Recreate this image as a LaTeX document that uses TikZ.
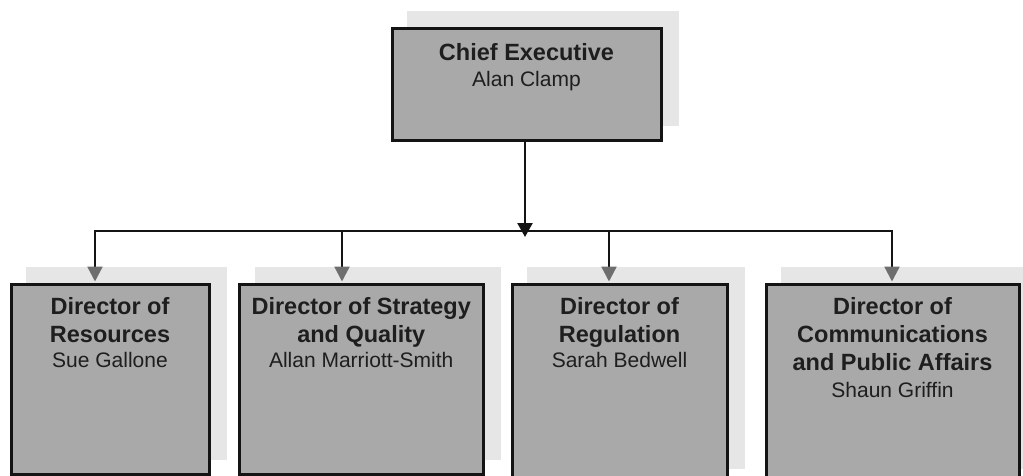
\documentclass[tikz,border=0pt]{standalone}
\usepackage{fontspec}
\setmainfont{Liberation Sans}
\usetikzlibrary{arrows.meta,shadows}

\definecolor{boxfill}{HTML}{A9A9A9}
\definecolor{boxline}{HTML}{141414}
\definecolor{shade}{HTML}{E6E6E6}
\definecolor{tipgray}{HTML}{6E6E6E}
\definecolor{ink}{HTML}{1E1E1E}

% post holder's name, set lighter and smaller than the post title
\newcommand\holder[1]{{\fontsize{21}{25}\selectfont\mdseries #1}}

\begin{document}
\begin{tikzpicture}[x=1pt,y=-1pt,
  post/.style={draw=boxline, fill=boxfill, line width=3pt, inner sep=0pt,
    copy shadow={shadow xshift=16.5pt, shadow yshift=16pt, fill=shade, draw=shade}},
  posttext/.style={anchor=north, inner sep=0pt, align=center, text=ink,
    font=\fontsize{23.5}{28}\selectfont\bfseries},
  wire/.style={draw=boxline, line width=2.4pt},
  bus/.style={wire, line cap=rect},
  mainlink/.style={wire, -{Triangle[length=14pt,width=15pt]}},
  sublink/.style={wire, shorten >=1.5pt, -{Triangle[length=15pt,width=15pt,color=tipgray]}}
]
\useasboundingbox (0,0) rectangle (1023,476);
\clip (0,0) rectangle (1023,476);

% boxes
\node[post, minimum width=269pt, minimum height=112pt] (chief) at (526.5,85) {};
\node[post, minimum width=198pt, minimum height=190pt] (res) at (110,379.5) {};
\node[post, minimum width=243.5pt, minimum height=190pt] (strat) at (361.25,379.5) {};
\node[post, minimum width=215pt, minimum height=199pt] (reg) at (619.5,384) {};
\node[post, minimum width=253pt, minimum height=199pt] (comms) at (892.5,384) {};

% texts
\node[posttext] (chief-t) at ([yshift=-16pt]chief.north) {Chief Executive\\[-2pt]\holder{Alan Clamp}};
\node[posttext] (res-t) at ([yshift=-14pt]res.north) {Director of\\Resources\\[-3pt]\holder{Sue Gallone}};
\node[posttext] (strat-t) at ([yshift=-14pt]strat.north) {Director of Strategy\\and Quality\\[-3pt]\holder{Allan Marriott-Smith}};
\node[posttext] (reg-t) at ([yshift=-14pt]reg.north) {Director of\\Regulation\\[-3pt]\holder{Sarah Bedwell}};
\node[posttext] (comms-t) at ([yshift=-14pt]comms.north) {Director of\\Communications\\and Public Affairs\\[-1pt]\holder{Shaun Griffin}};

% connector points
\coordinate (hub) at (525,237);
\coordinate (b1) at (95,231);
\coordinate (b2) at (342,231);
\coordinate (b3) at (609,231);
\coordinate (b4) at (892,231);

% connectors
\draw[bus] (b1) -- (b4);
\draw[mainlink] (chief.south -| hub) -- (hub);
\draw[sublink] (b1) -- (b1 |- res.north);
\draw[sublink] (b2) -- (b2 |- strat.north);
\draw[sublink] (b3) -- (b3 |- reg.north);
\draw[sublink] (b4) -- (b4 |- comms.north);
\end{tikzpicture}
\end{document}
